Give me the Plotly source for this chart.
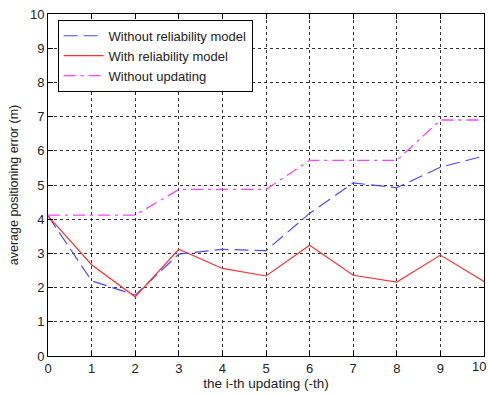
import plotly.graph_objects as go

x_vals = list(range(11))
without_reliability = [4.1, 2.2, 1.78, 2.98, 3.12, 3.08, 4.17, 5.06, 4.92, 5.52, 5.85]
with_reliability = [4.1, 2.67, 1.73, 3.12, 2.56, 2.34, 3.24, 2.36, 2.16, 2.95, 2.18]
without_updating = [4.12, 4.12, 4.12, 4.87, 4.87, 4.87, 5.72, 5.72, 5.72, 6.9, 6.9]
x_ticks = list(range(10))
last_x_tick = 10
y_ticks = list(range(11))

font_col = "#222222"
fig = go.Figure()
fig.add_trace(go.Scatter(x=x_vals, y=without_reliability, mode="lines",
                         name="Without reliability model",
                         line=dict(color="#4a4aff", width=1.2, dash="14px,6px")))
fig.add_trace(go.Scatter(x=x_vals, y=with_reliability, mode="lines",
                         name="With reliability model",
                         line=dict(color="#ff3030", width=1.2)))
fig.add_trace(go.Scatter(x=x_vals, y=without_updating, mode="lines",
                         name="Without updating",
                         line=dict(color="#ff44ff", width=1.3, dash="12px,5px,3px,5px")))

axis_common = dict(showline=True, linecolor="black", linewidth=1, mirror="allticks",
                   ticks="inside", ticklen=5, tickcolor="black",
                   showgrid=True, gridcolor="#333333", griddash="dot", gridwidth=1,
                   zeroline=False, tickfont=dict(family="Arial", size=13, color=font_col))

fig.update_xaxes(range=[0, 10], tickvals=x_ticks, title=dict(text="the i-th updating (-th)",
                 font=dict(family="Arial", size=13.5, color=font_col), standoff=2), **axis_common)
fig.update_yaxes(range=[0, 10], tickvals=y_ticks, title=dict(text="average positioning error (m)",
                 font=dict(family="Arial", size=12.5, color=font_col), standoff=8), **axis_common)

fig.add_annotation(x=last_x_tick, y=0, xref="x", yref="y", text=str(last_x_tick),
                   showarrow=False, xanchor="right", yanchor="top", yshift=-1, xshift=4,
                   font=dict(family="Arial", size=13, color=font_col))

fig.update_layout(
    width=488, height=394,
    margin=dict(l=48, r=4, t=14, b=38),
    paper_bgcolor="white", plot_bgcolor="white",
    showlegend=True,
    legend=dict(x=0.022, y=0.983, xanchor="left", yanchor="top",
                bgcolor="white", bordercolor="black", borderwidth=1,
                font=dict(family="Arial", size=13, color=font_col),
                tracegroupgap=0, itemwidth=40),
)

fig.write_html("out.html")
